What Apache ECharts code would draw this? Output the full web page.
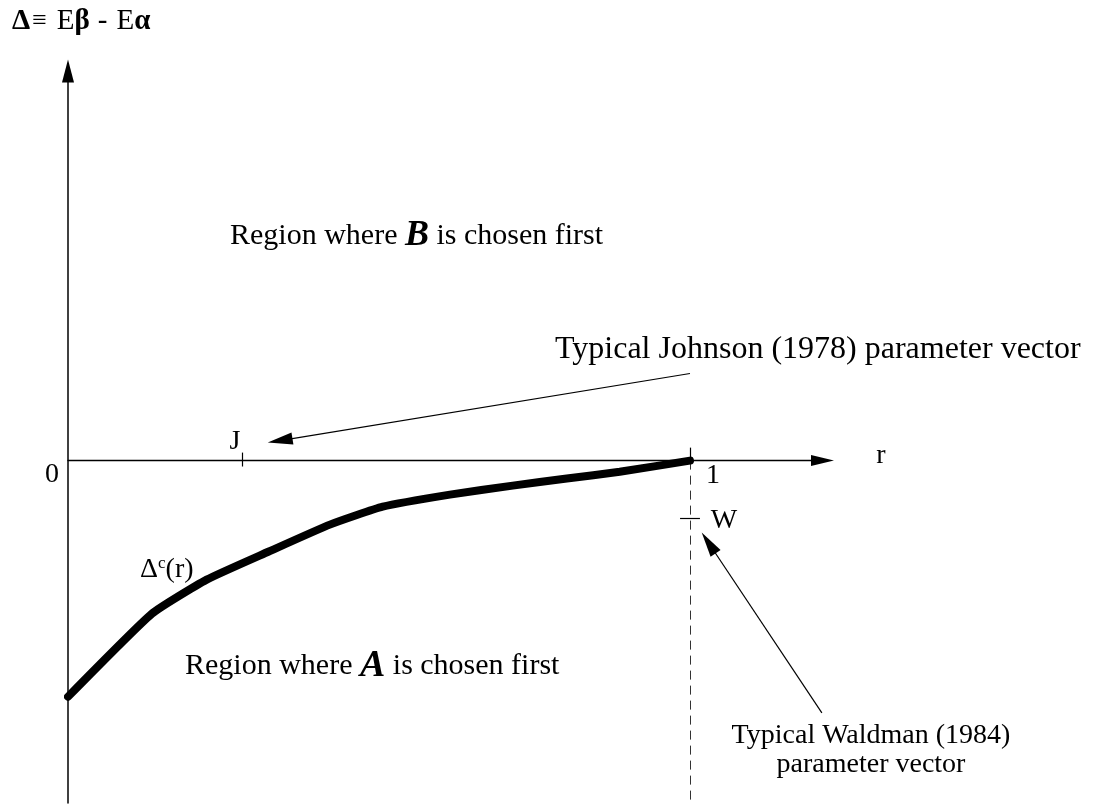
<!DOCTYPE html>
<html>
<head>
<meta charset="utf-8">
<script src="https://cdn.jsdelivr.net/npm/echarts@6/dist/echarts.min.js"></script>
<style>
  html, body { margin: 0; padding: 0; background: #fff; }
  #chart { width: 1120px; height: 806px; }
</style>
</head>
<body>
<div id="chart"></div>
<script>
// boundary curve Δc(r) (r in [0,1], Δ in curve units)
const rValues = [0, 0.135, 0.223, 0.322, 0.421, 0.506, 0.614, 0.715, 0.802, 0.887, 1.0]
const deltaC = [-1.0, -0.648, -0.504, -0.386, -0.271, -0.195, -0.144, -0.106, -0.076, -0.047, 0]

// annotation marks, in the same data units
const jPoint = 0.28
const wPoint = [1.0, -0.246]
const johnsonArrow = [[1.0, 0.369], [0.341, 0.085]]
const waldmanArrow = [[1.212, -1.068], [1.03, -0.349]]

const tickLabels = ['0', '1']
const axisNames = ['Δ≡ Eβ - Eα', 'r']

const xRange = [0, 1.213]
const yRange = [-1.45, 1.65]

const serif = '"Liberation Serif", "DejaVu Serif", serif'
const chart = echarts.init(document.getElementById('chart'))

const curve = rValues.map((r, i) => [r, deltaC[i]])

function seg(a, b, extra) {
  return [{ coord: a, symbol: 'none' }, Object.assign({ coord: b, symbol: 'none' }, extra || {})]
}

const arrowHead = { symbol: 'triangle', symbolSize: [12, 25] }

function txt(x, y, text, size, extra) {
  return {
    type: 'text', x, y,
    style: Object.assign({
      text, fontFamily: serif, fontSize: size, fill: '#000', align: 'center', verticalAlign: 'middle',
    }, extra || {}),
  }
}

chart.setOption({
  animation: false,
  grid: { left: 68, right: 1120 - 68 - 622 * xRange[1], top: 71, bottom: 3 },
  xAxis: {
    type: 'value',
    min: xRange[0],
    max: xRange[1],
    axisLine: {
      onZero: true,
      symbol: ['none', 'triangle'],
      symbolSize: [11, 23],
      lineStyle: { color: '#000', width: 1.3 },
    },
    axisTick: { show: false },
    axisLabel: { show: false },
    splitLine: { show: false },
  },
  yAxis: {
    type: 'value',
    min: yRange[0],
    max: yRange[1],
    axisLine: {
      onZero: true,
      symbol: ['none', 'triangle'],
      symbolSize: [12, 23],
      lineStyle: { color: '#000', width: 1.5 },
    },
    axisTick: { show: false },
    axisLabel: { show: false },
    splitLine: { show: false },
  },
  series: [
    {
      type: 'line',
      data: curve,
      symbol: 'none',
      smooth: 0.15,
      lineStyle: { color: '#000', width: 8, cap: 'round', join: 'round' },
      z: 5,
    },
    {
      type: 'line',
      data: [],
      markLine: {
        silent: true,
        symbol: 'none',
        label: { show: false },
        lineStyle: { color: '#000', width: 1.2, type: 'solid' },
        data: [
          seg([jPoint, 0.034], [jPoint, -0.025]),
          seg([1, 0], [1, 0.055]),
          seg([wPoint[0] - 0.016, wPoint[1]], [wPoint[0] + 0.016, wPoint[1]]),
          seg(johnsonArrow[0], johnsonArrow[1], arrowHead),
          seg(waldmanArrow[0], waldmanArrow[1], arrowHead),
          [
            { coord: [1, 0], symbol: 'none', lineStyle: { type: [9, 6], color: '#333', width: 1 } },
            { coord: [1, yRange[0]], symbol: 'none' },
          ],
        ],
      },
    },
  ],
  graphic: [
    {
      type: 'text', left: 12, top: 7,
      style: {
        text: '{d|Δ}{s|≡}{e|E}{g|β}{m|-}{e|E}{g|α}',
        fill: '#000',
        rich: {
          d: { fontFamily: serif, fontSize: 29, fontWeight: 'bold' },
          s: { fontFamily: serif, fontSize: 26, padding: [0, 10, 0, 2] },
          e: { fontFamily: serif, fontSize: 29 },
          g: { fontFamily: serif, fontSize: 29, fontWeight: 'bold' },
          m: { fontFamily: serif, fontSize: 29, padding: [0, 9, 0, 8] },
        },
      },
    },
    txt(52, 475, tickLabels[0], 28),
    txt(713, 476, tickLabels[1], 28),
    txt(881, 456, axisNames[1], 28),
    txt(235, 442, 'J', 28),
    txt(724, 521, 'W', 28),
    {
      type: 'text', x: 140, y: 570,
      style: {
        text: '{b|Δ}{sup|c}{b|(r)}', fill: '#000', verticalAlign: 'middle',
        rich: {
          b: { fontFamily: serif, fontSize: 28 },
          sup: { fontFamily: serif, fontSize: 17, padding: [0, 0, 12, 0] },
        },
      },
    },
    {
      type: 'text', x: 230, y: 236,
      style: {
        text: '{t|Region where }{h|B}{t| is chosen first}', fill: '#000', verticalAlign: 'middle',
        rich: {
          t: { fontFamily: serif, fontSize: 30 },
          h: { fontFamily: serif, fontSize: 36, fontWeight: 900, fontStyle: 'italic' },
        },
      },
    },
    {
      type: 'text', x: 185, y: 666,
      style: {
        text: '{t|Region where }{h|A}{t| is chosen first}', fill: '#000', verticalAlign: 'middle',
        rich: {
          t: { fontFamily: serif, fontSize: 30 },
          h: { fontFamily: serif, fontSize: 38, fontWeight: 900, fontStyle: 'italic' },
        },
      },
    },
    txt(555, 350, 'Typical Johnson (1978) parameter vector', 32, { align: 'left' }),
    txt(871, 750, 'Typical Waldman (1984)\nparameter vector', 28, { lineHeight: 29 }),
  ],
})
</script>
</body>
</html>
